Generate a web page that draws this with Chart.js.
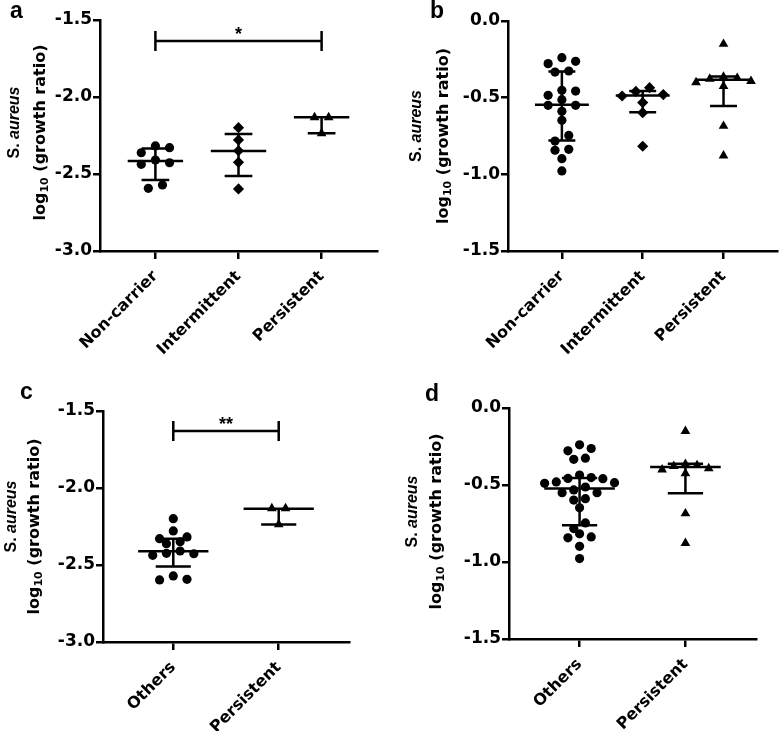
<!DOCTYPE html>
<html>
<head>
<meta charset="utf-8">
<script src="https://cdn.jsdelivr.net/npm/chart.js@4.4.1/dist/chart.umd.min.js"></script>
<style>
  body { margin: 0; background: #fff; }
  .panel { position: absolute; }
</style>
</head>
<body>
<div class="panel" style="left:0;top:0"><canvas id="chartA" width="391" height="360"></canvas></div>
<div class="panel" style="left:391px;top:0"><canvas id="chartB" width="392" height="360"></canvas></div>
<div class="panel" style="left:0;top:360px"><canvas id="chartC" width="391" height="371"></canvas></div>
<div class="panel" style="left:391px;top:360px"><canvas id="chartD" width="392" height="371"></canvas></div>
<script>
const groups3 = ['Non-carrier', 'Intermittent', 'Persistent'];
const groups2 = ['Others', 'Persistent'];
const ticksLow = [-3.0, -2.5, -2.0, -1.5];
const ticksHigh = [-1.5, -1.0, -0.5, 0.0];

// panel a
const aNonCarrier = [-2.318, -2.329, -2.362, -2.409, -2.427, -2.437, -2.571, -2.593];
const aIntermittent = [-2.199, -2.279, -2.349, -2.424, -2.597];
const aPersistent = [-2.132, -2.132, -2.236];
const aMedian = [-2.416, -2.350, -2.132];
const aUpper = [-2.335, -2.241, -2.132];
const aLower = [-2.539, -2.513, -2.236];

// panel b
const bNonCarrier = [-0.239, -0.263, -0.278, -0.326, -0.333, -0.452, -0.457, -0.485, -0.513, -0.550,
                     -0.550, -0.589, -0.648, -0.746, -0.783, -0.837, -0.843, -0.898, -0.978];
const bIntermittent = [-0.435, -0.459, -0.480, -0.489, -0.532, -0.598, -0.817];
const bPersistent = [-0.150, -0.365, -0.372, -0.378, -0.392, -0.400, -0.425, -0.685, -0.878];
const bMedian = [-0.546, -0.486, -0.383];
const bUpper = [-0.330, -0.457, -0.362];
const bLower = [-0.780, -0.595, -0.554];

// panel c / d : "Others" pools non-carriers and intermittent carriers
const cOthers = aNonCarrier.concat(aIntermittent);
const cMedian = [-2.411, -2.135];
const cUpper = [-2.330, -2.135];
const cLower = [-2.510, -2.237];

const dOthers = bNonCarrier.concat(bIntermittent);
const dMedian = [-0.523, -0.383];
const dUpper = [-0.455, -0.362];
const dLower = [-0.762, -0.554];

const ARIAL = '"Liberation Sans", Arial, sans-serif';
const WIDE = '"DejaVu Sans", sans-serif';

// GraphPad-like scatter: close values share a row, spread around the centre
function swarm(values, center, step) {
  const sorted = values.slice().sort((p, q) => q - p);
  const pts = [];
  let row = [];
  const flush = () => {
    const n = row.length;
    row.forEach((v, k) => {
      let off;
      if (n % 2) off = k === 0 ? 0 : Math.ceil(k / 2) * (k % 2 ? 1 : -1);
      else off = (Math.floor(k / 2) + 0.5) * (k % 2 ? -1 : 1);
      pts.push({ x: center + off * step, y: v });
    });
    row = [];
  };
  sorted.forEach(v => {
    if (row.length && row[0] - v > 0.055) flush();
    row.push(v);
  });
  flush();
  return pts;
}

const medianBars = {
  id: 'medianBars',
  afterDatasetsDraw(chart, args, o) {
    const { ctx, scales: { x, y } } = chart;
    ctx.save();
    ctx.strokeStyle = '#000';
    ctx.lineWidth = 2.5;
    o.median.forEach((m, i) => {
      const c = i + 1;
      const xc = x.getPixelForValue(c);
      const ym = y.getPixelForValue(m);
      const yu = y.getPixelForValue(o.upper[i]);
      const yl = y.getPixelForValue(o.lower[i]);
      ctx.beginPath();
      ctx.moveTo(x.getPixelForValue(c - 1 / 3), ym);
      ctx.lineTo(x.getPixelForValue(c + 1 / 3), ym);
      ctx.moveTo(x.getPixelForValue(c - 1 / 6), yu);
      ctx.lineTo(x.getPixelForValue(c + 1 / 6), yu);
      ctx.moveTo(x.getPixelForValue(c - 1 / 6), yl);
      ctx.lineTo(x.getPixelForValue(c + 1 / 6), yl);
      ctx.moveTo(xc, yu);
      ctx.lineTo(xc, yl);
      ctx.stroke();
    });
    ctx.restore();
  }
};

const bracket = {
  id: 'bracket',
  afterDraw(chart, args, o) {
    if (!o.label) return;
    const { ctx, scales: { x, y } } = chart;
    const x1 = x.getPixelForValue(o.from), x2 = x.getPixelForValue(o.to);
    const yy = y.getPixelForValue(o.y);
    ctx.save();
    ctx.strokeStyle = '#000';
    ctx.lineWidth = 2.5;
    ctx.beginPath();
    ctx.moveTo(x1, yy); ctx.lineTo(x2, yy);
    ctx.moveTo(x1, yy - 10); ctx.lineTo(x1, yy + 10);
    ctx.moveTo(x2, yy - 10); ctx.lineTo(x2, yy + 10);
    ctx.stroke();
    ctx.fillStyle = '#000';
    ctx.font = 'bold 18px ' + ARIAL;
    ctx.textAlign = 'center';
    ctx.textBaseline = 'alphabetic';
    ctx.fillText(o.label, (x1 + x2) / 2, yy - 1);
    ctx.restore();
  }
};

const titles = {
  id: 'titles',
  afterDraw(chart, args, o) {
    const { ctx, chartArea } = chart;
    ctx.save();
    ctx.fillStyle = '#000';
    ctx.font = 'bold 23px ' + ARIAL;
    ctx.textBaseline = 'alphabetic';
    ctx.fillText(o.letter, o.letterX, o.letterY);

    const line1 = [['bold 16px ' + ARIAL, 'S. ', 0], ['italic bold 16px ' + ARIAL, 'aureus', 0]];
    const line2 = [['bold 16px ' + WIDE, 'log', 0], ['bold 11px ' + WIDE, '10', 4], ['bold 16px ' + WIDE, ' (growth ratio)', 0]];
    const cy = (chartArea.top + chartArea.bottom) / 2;
    const drawLine = (segs, px, dy) => {
      let w = 0;
      segs.forEach(s => { ctx.font = s[0]; w += ctx.measureText(s[1]).width; });
      ctx.save();
      ctx.translate(chartArea.left + px, cy + dy);
      ctx.rotate(-Math.PI / 2);
      ctx.textBaseline = 'middle';
      let cx = -w / 2;
      segs.forEach(s => {
        ctx.font = s[0];
        ctx.fillText(s[1], cx, s[2]);
        cx += ctx.measureText(s[1]).width;
      });
      ctx.restore();
    };
    drawLine(line1, o.line1, o.dy - 10);
    drawLine(line2, o.line2, o.dy);
    ctx.restore();
  }
};

function makePanel(id, cfg) {
  const canvas = document.getElementById(id);
  const W = canvas.width, H = canvas.height;
  const n = cfg.cats.length;
  const datasets = cfg.series.map((vals, i) => ({
    data: swarm(vals, i + 1, cfg.step),
    pointStyle: cfg.markers[i],
    pointRadius: cfg.markers[i] === 'circle' ? 4.6 : 5.6,
    pointBackgroundColor: '#000',
    pointBorderColor: '#000',
    pointBorderWidth: 0,
    showLine: false
  }));
  return new Chart(canvas, {
    type: 'scatter',
    data: { datasets },
    options: {
      responsive: false,
      animation: false,
      layout: { padding: { top: cfg.area.top, right: W - cfg.area.right, left: 0, bottom: 0 } },
      scales: {
        x: {
          type: 'linear',
          min: 1 - 2 / 3,
          max: n + 2 / 3,
          afterBuildTicks: s => { s.ticks = cfg.cats.map((c, i) => ({ value: i + 1 })); },
          afterFit: s => { s.height = H - cfg.area.bottom; },
          ticks: {
            autoSkip: false,
            minRotation: 45,
            maxRotation: 45,
            color: '#000',
            font: { family: WIDE, size: 16, weight: 'bold' },
            padding: 8,
            callback: v => cfg.cats[Math.round(v) - 1]
          },
          grid: { drawOnChartArea: false, color: '#000', lineWidth: 2.5, tickLength: 8 },
          border: { color: '#000', width: 2.5 }
        },
        y: {
          min: cfg.yTicks[0],
          max: cfg.yTicks[cfg.yTicks.length - 1],
          afterBuildTicks: s => { s.ticks = cfg.yTicks.map(v => ({ value: v })); },
          afterFit: s => { s.width = cfg.area.left; },
          ticks: {
            color: '#000',
            font: { family: WIDE, size: 17, weight: 'bold' },
            padding: 1,
            callback: v => v.toFixed(1)
          },
          grid: { drawOnChartArea: false, color: '#000', lineWidth: 2.5, tickLength: 7 },
          border: { color: '#000', width: 2.5 }
        }
      },
      plugins: {
        legend: { display: false },
        tooltip: { enabled: false },
        medianBars: { median: cfg.median, upper: cfg.upper, lower: cfg.lower },
        bracket: cfg.bracket || {},
        titles: cfg.titles
      }
    },
    plugins: [medianBars, bracket, titles]
  });
}

makePanel('chartA', {
  cats: groups3,
  series: [aNonCarrier, aIntermittent, aPersistent],
  markers: ['circle', 'rectRot', 'triangle'],
  median: aMedian, upper: aUpper, lower: aLower,
  yTicks: ticksLow,
  step: 0.17,
  area: { left: 100, top: 20, right: 377, bottom: 251 },
  bracket: { from: 1, to: 3, y: -1.636, label: '*' },
  titles: { letter: 'a', letterX: 10, letterY: 18, line1: -85, line2: -59, dy: -3 }
});

makePanel('chartB', {
  cats: groups3,
  series: [bNonCarrier, bIntermittent, bPersistent],
  markers: ['circle', 'rectRot', 'triangle'],
  median: bMedian, upper: bUpper, lower: bLower,
  yTicks: ticksHigh,
  step: 0.17,
  area: { left: 117, top: 21, right: 391, bottom: 251 },
  titles: { letter: 'b', letterX: 39, letterY: 18, line1: -91, line2: -64, dy: 0 }
});

makePanel('chartC', {
  cats: groups2,
  series: [cOthers, aPersistent],
  markers: ['circle', 'triangle'],
  median: cMedian, upper: cUpper, lower: cLower,
  yTicks: ticksLow,
  step: 0.13,
  area: { left: 103, top: 51, right: 349, bottom: 282 },
  bracket: { from: 1, to: 2, y: -1.63, label: '**' },
  titles: { letter: 'c', letterX: 20, letterY: 39, line1: -91, line2: -68, dy: 0 }
});

makePanel('chartD', {
  cats: groups2,
  series: [dOthers, bPersistent],
  markers: ['circle', 'triangle'],
  median: dMedian, upper: dUpper, lower: dLower,
  yTicks: ticksHigh,
  step: 0.11,
  area: { left: 118, top: 48, right: 365, bottom: 279 },
  titles: { letter: 'd', letterX: 34, letterY: 41, line1: -96, line2: -72, dy: -2 }
});
</script>
</body>
</html>
